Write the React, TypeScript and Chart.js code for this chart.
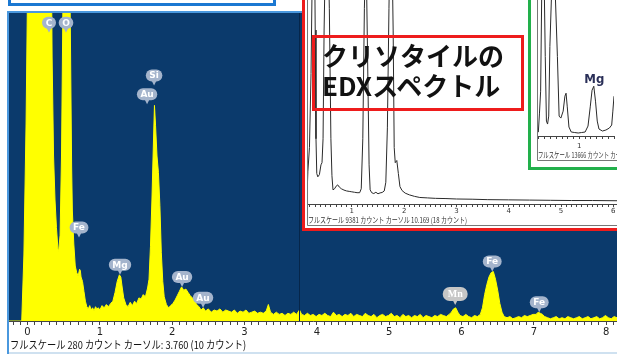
import React, { useEffect, useRef } from 'react';
import { Chart, registerables } from 'chart.js';
Chart.register(...registerables);

// ---------- main spectrum (yellow) ----------
const mainEnergy = [
  -0.26, -0.08, -0.05, -0.02, 0.0, 0.1, 0.2, 0.28, 0.32, 0.34, 0.36, 0.38, 0.4, 0.42, 0.43, 0.45, 0.47, 0.49,
  0.52, 0.56, 0.59, 0.61, 0.62, 0.64, 0.66, 0.68, 0.7, 0.72, 0.73, 0.74, 0.76, 0.78, 0.8, 0.82, 0.84, 0.86,
  0.88, 0.9, 0.92, 0.94, 0.96, 0.98, 1.0, 1.03, 1.06, 1.09, 1.12, 1.15, 1.18, 1.21, 1.24, 1.27, 1.29, 1.31,
  1.33, 1.36, 1.39, 1.42, 1.45, 1.48, 1.51, 1.54, 1.57, 1.6, 1.63, 1.66, 1.68, 1.7, 1.72, 1.74, 1.755, 1.77,
  1.79, 1.81, 1.83, 1.85, 1.87, 1.89, 1.92, 1.95, 1.98, 2.01, 2.04, 2.07, 2.1, 2.13, 2.16, 2.19, 2.22, 2.25,
  2.28, 2.31, 2.34, 2.37, 2.4, 2.43, 2.46, 2.5, 2.54, 2.58, 2.62, 2.66, 2.7, 2.74, 2.78, 2.82, 2.86, 2.9,
  2.94, 2.98, 3.02, 3.06, 3.1, 3.14, 3.18, 3.22, 3.26, 3.3, 3.33, 3.36, 3.4, 3.44, 3.48, 3.52, 3.56, 3.6,
  3.64, 3.68, 3.72, 3.76, 3.79, 3.83, 3.87, 3.91, 3.95, 3.99, 4.03, 4.07, 4.11, 4.15, 4.19, 4.23, 4.27, 4.31,
  4.35, 4.39, 4.43, 4.47, 4.51, 4.55, 4.59, 4.63, 4.67, 4.71, 4.75, 4.79, 4.83, 4.87, 4.91, 4.95, 4.99, 5.03,
  5.07, 5.11, 5.15, 5.19, 5.23, 5.27, 5.31, 5.35, 5.39, 5.43, 5.47, 5.51, 5.55, 5.59, 5.63, 5.67, 5.71, 5.75,
  5.79, 5.83, 5.86, 5.89, 5.92, 5.95, 5.98, 6.02, 6.06, 6.1, 6.14, 6.18, 6.22, 6.26, 6.29, 6.32, 6.35, 6.38,
  6.41, 6.44, 6.47, 6.5, 6.53, 6.56, 6.59, 6.63, 6.67, 6.71, 6.75, 6.79, 6.83, 6.87, 6.91, 6.95, 6.99, 7.03,
  7.06, 7.09, 7.12, 7.15, 7.19, 7.23, 7.27, 7.31, 7.35, 7.39, 7.43, 7.47, 7.51, 7.55, 7.59, 7.63, 7.67, 7.71,
  7.75, 7.79, 7.83, 7.87, 7.91, 7.95, 7.99, 8.03, 8.07, 8.11, 8.15,
];
const mainCounts = [
  0, 0, 60, 180, 300, 420, 520, 600, 420, 240, 150, 110, 85, 66, 63, 78, 150, 290,
  560, 480, 280, 140, 100, 70, 50, 44, 41, 47, 46, 40, 36, 27, 18, 13, 11, 14,
  10, 12, 9, 13, 11, 12, 10, 14, 12, 15, 13, 16, 18, 26, 36, 42, 40, 30,
  21, 15, 13, 17, 14, 18, 16, 21, 20, 24, 22, 30, 38, 68, 110, 160, 196, 178,
  150, 135, 105, 62, 36, 22, 15, 12, 14, 16, 19, 23, 27, 31, 28, 29, 26, 23,
  21, 18, 15, 13, 10, 12, 9, 11, 8, 10, 9, 11, 8, 10, 9, 8, 10, 7,
  9, 8, 10, 7, 8, 9, 7, 8, 7, 9, 15, 8, 6, 8, 6, 7, 5, 7,
  6, 8, 6, 10, 6, 5, 7, 5, 6, 4, 6, 5, 7, 5, 4, 8, 5, 6,
  4, 6, 5, 7, 4, 6, 5, 4, 7, 5, 4, 6, 3, 5, 6, 4, 5, 7,
  4, 5, 3, 6, 4, 5, 3, 5, 4, 6, 3, 5, 4, 3, 5, 4, 6, 5,
  4, 6, 8, 11, 12, 8, 5, 4, 6, 4, 3, 5, 4, 6, 12, 24, 33, 40,
  44, 45, 38, 28, 16, 8, 4, 3, 4, 2, 3, 4, 3, 5, 4, 5, 6, 6,
  8, 7, 6, 4, 3, 2, 3, 4, 2, 3, 2, 4, 3, 2, 3, 4, 2, 3,
  4, 2, 3, 4, 2, 3, 5, 3, 2, 4, 3,
];
const mainTickLabels = ['0', '1', '2', '3', '4', '5', '6', '7', '8'];
const MAIN_X_MIN = -0.256;
const MAIN_X_MAX = 8.15;
const MAIN_FULL_SCALE = 280;
const cursorEnergy = [3.76];
const peakNames = ['C', 'O', 'Si', 'Au', 'Fe', 'Mg', 'Au', 'Au', 'Mn', 'Fe', 'Fe'];
const peakEnergy = [0.297, 0.532, 1.75, 1.653, 0.712, 1.279, 2.137, 2.427, 5.913, 6.425, 7.075];
const peakCounts = [262, 262, 214, 197, 76, 42, 31, 12, 14.5, 45, 8];
const mainFooter = 'フルスケール 280 カウント カーソル: 3.760 (10 カウント)';

// ---------- chrysotile reference spectrum (red inset) ----------
const refEnergy = [
  0.14, 0.16, 0.19, 0.22, 0.25, 0.28, 0.3, 0.315, 0.33, 0.35, 0.38, 0.41, 0.43, 0.45, 0.47, 0.52, 0.57, 0.6,
  0.62, 0.64, 0.67, 0.7, 0.73, 0.76, 0.8, 0.85, 0.9, 0.95, 1.0, 1.05, 1.1, 1.15, 1.18, 1.21, 1.24, 1.27,
  1.3, 1.33, 1.35, 1.38, 1.42, 1.46, 1.5, 1.54, 1.58, 1.62, 1.65, 1.68, 1.71, 1.75, 1.79, 1.81, 1.83, 1.86,
  1.89, 1.92, 1.96, 2.02, 2.1, 2.2, 2.3, 2.45, 2.6, 2.8, 3.0, 3.3, 3.6, 4.0, 4.4, 4.8, 5.2, 5.6, 6.07,
];
const refCounts = [
  180, 1500, 2600, 6000, 12000, 14000, 8000, 3000, 1400, 1250, 1350, 1800, 1900, 3000, 8000, 15000, 9000, 3000,
  1300, 650, 700, 820, 880, 780, 700, 640, 600, 580, 560, 540, 520, 520, 700, 3000, 9000, 12000,
  7000, 1800, 650, 520, 480, 540, 470, 510, 530, 600, 1000, 3500, 9000, 15000, 8000, 2600, 1900, 2000,
  1400, 800, 620, 500, 420, 350, 300, 280, 260, 250, 230, 220, 200, 190, 180, 170, 160, 160, 150,
];
const refTickLabels = ['0', '1', '2', '3', '4', '5', '6'];
const REF_X_MIN = 0.143;
const REF_X_MAX = 6.07;
const REF_FULL_SCALE = 9381;
const refFooter = 'フルスケール 9381 カウント カーソル 10.169 (18 カウント)';

// ---------- zoomed reference spectrum (green inset) ----------
const zoomEnergy = [
  0.267, 0.29, 0.31, 0.33, 0.35, 0.38, 0.41, 0.43, 0.45, 0.47, 0.49, 0.55, 0.62, 0.65, 0.68, 0.72, 0.75, 0.77,
  0.79, 0.82, 0.86, 0.92, 0.98, 1.04, 1.1, 1.15, 1.19, 1.22, 1.25, 1.28, 1.31, 1.34, 1.4, 1.46, 1.52, 1.56,
  1.58, 1.6,
];
const zoomCounts = [
  300, 400, 2300, 4500, 15000, 20000, 8000, 1500, 1200, 2000, 9000, 20000, 8000, 2000, 1800, 2500, 4000, 4300,
  3000, 900, 400, 350, 300, 350, 400, 1000, 3000, 4600, 5000, 3500, 1500, 700, 500, 600, 800, 1100,
  2500, 4000,
];
const zoomTickLabels = ['0', '1'];
const ZOOM_X_MIN = 0.267;
const ZOOM_X_MAX = 1.6;
const ZOOM_FULL_SCALE = 13666;
const zoomPeakNames = ['Mg'];
const zoomPeakEnergy = [1.26];
const zoomPeakCounts = [5300];
const zoomFooter = 'フルスケール 13666 カウント カーソル';
const zoomFooterPrefix = 'フルスケール 13666 カウント';

const CJK = '"Noto Sans CJK JP", "Noto Sans", sans-serif';

function drawSqueezed(ctx: CanvasRenderingContext2D, text: string, x: number, y: number, font: string, width: number, color: string, measureText?: string) {
  ctx.save();
  ctx.font = font;
  ctx.fillStyle = color;
  ctx.textBaseline = 'middle';
  ctx.textAlign = 'left';
  const w = ctx.measureText(measureText || text).width;
  ctx.translate(x, y);
  ctx.scale(width / w, 1);
  ctx.fillText(text, 0, 0);
  ctx.restore();
}

function tickCb(labels: string[]) {
  return (v: any) => {
    const n = Number(v);
    const r = Math.round(n);
    if (r < 0 || n < -1e-6) return '';
    return Math.abs(n - r) < 1e-6 && labels[r] !== undefined ? labels[r] : '';
  };
}

function roundRect(ctx: CanvasRenderingContext2D, x: number, y: number, w: number, h: number, r: number) {
  ctx.beginPath();
  ctx.moveTo(x + r, y);
  ctx.lineTo(x + w - r, y);
  ctx.arcTo(x + w, y, x + w, y + r, r);
  ctx.lineTo(x + w, y + h - r);
  ctx.arcTo(x + w, y + h, x + w - r, y + h, r);
  ctx.lineTo(x + r, y + h);
  ctx.arcTo(x, y + h, x, y + h - r, r);
  ctx.lineTo(x, y + r);
  ctx.arcTo(x, y, x + r, y, r);
  ctx.closePath();
}

const mainPlugin = {
  id: 'mainDeco',
  beforeDraw(chart: any) {
    const { ctx, chartArea: a } = chart;
    ctx.save();
    ctx.fillStyle = '#0b3a6c';
    ctx.fillRect(a.left, a.top, a.right - a.left, a.bottom - a.top);
    ctx.restore();
  },
  afterDatasetsDraw(chart: any) {
    const { ctx, chartArea: a, scales } = chart;
    const xs = scales.x, ys = scales.y;
    ctx.save();
    cursorEnergy.forEach((e) => {
      const px = Math.round(xs.getPixelForValue(e)) + 0.5;
      ctx.strokeStyle = '#06264a';
      ctx.lineWidth = 1;
      ctx.beginPath();
      ctx.moveTo(px, a.top);
      ctx.lineTo(px, a.bottom);
      ctx.stroke();
    });
    peakNames.forEach((name, i) => {
      const px = xs.getPixelForValue(peakEnergy[i]);
      const tip = ys.getPixelForValue(peakCounts[i]);
      const isMn = name === 'Mn';
      const font = isMn ? 'bold 10px "Liberation Serif", serif' : 'bold 9px "DejaVu Sans", sans-serif';
      ctx.font = font;
      const tw = ctx.measureText(name).width;
      const h = isMn ? 14 : 12;
      const w = isMn ? 25 : Math.max(14, tw + 7);
      const cy = tip - 4 - h / 2;
      const fill = isMn ? '#c6c6c6' : '#a4b4cc';
      ctx.fillStyle = fill;
      roundRect(ctx, px - w / 2, cy - h / 2, w, h, h / 2);
      ctx.fill();
      ctx.beginPath();
      ctx.moveTo(px - 2.5, cy + h / 2 - 1);
      ctx.lineTo(px + 2.5, cy + h / 2 - 1);
      ctx.lineTo(px, tip);
      ctx.closePath();
      ctx.fill();
      ctx.fillStyle = '#ffffff';
      ctx.textAlign = 'center';
      ctx.textBaseline = 'middle';
      ctx.fillText(name, px, cy + 0.5);
    });
    ctx.restore();
  },
  afterDraw(chart: any) {
    drawSqueezed(chart.ctx, mainFooter, 1, 332, `11px ${CJK}`, 236, '#111');
  },
};

const refPlugin = {
  id: 'refDeco',
  afterDraw(chart: any) {
    const { ctx, chartArea: a } = chart;
    ctx.save();
    ctx.strokeStyle = '#777';
    ctx.lineWidth = 1;
    ctx.beginPath();
    ctx.moveTo(a.left + 0.5, 0);
    ctx.lineTo(a.left + 0.5, 225.5);
    ctx.lineTo(chart.width, 225.5);
    ctx.stroke();
    ctx.restore();
    drawSqueezed(ctx, refFooter, 3, 220, `8px ${CJK}`, 159, '#333');
  },
};

const zoomPlugin = {
  id: 'zoomDeco',
  afterDatasetsDraw(chart: any) {
    const { ctx, scales } = chart;
    ctx.save();
    ctx.font = 'bold 13px "Liberation Sans Narrow", "DejaVu Sans Condensed", sans-serif';
    ctx.fillStyle = '#2a2f58';
    ctx.textAlign = 'center';
    ctx.textBaseline = 'alphabetic';
    zoomPeakNames.forEach((n, i) => {
      ctx.fillText(n, scales.x.getPixelForValue(zoomPeakEnergy[i]), scales.y.getPixelForValue(zoomPeakCounts[i]));
    });
    ctx.restore();
  },
  afterDraw(chart: any) {
    const { ctx, chartArea: a } = chart;
    ctx.save();
    ctx.strokeStyle = '#777';
    ctx.lineWidth = 1;
    ctx.beginPath();
    ctx.moveTo(a.left + 0.5, 0);
    ctx.lineTo(a.left + 0.5, 160.5);
    ctx.lineTo(chart.width, 160.5);
    ctx.stroke();
    ctx.restore();
    ctx.save();
    ctx.font = `8px ${CJK}`;
    const pw = ctx.measureText(zoomFooterPrefix).width;
    const fw = ctx.measureText(zoomFooter).width;
    ctx.restore();
    drawSqueezed(ctx, zoomFooter, a.left + 1, 155, `8px ${CJK}`, (71 * fw) / pw, '#333');
  },
};

function axisX(min: number, max: number, height: number, labels: string[], fontSize: number, tickLen: number, pad: number, color: string) {
  return {
    type: 'linear',
    min,
    max,
    afterFit: (s: any) => {
      s.height = height;
    },
    border: { display: true, color: '#444', width: 1 },
    grid: { display: true, drawOnChartArea: false, drawTicks: true, tickLength: tickLen, color: '#444', lineWidth: 1 },
    ticks: {
      stepSize: 0.1,
      includeBounds: false,
      autoSkip: false,
      maxRotation: 0,
      minRotation: 0,
      padding: pad,
      color,
      font: { family: '"DejaVu Sans", sans-serif', size: fontSize },
      callback: tickCb(labels),
    },
  };
}

function makeConfig(energy: number[], counts: number[], opts: any) {
  return {
    type: 'line',
    data: {
      datasets: [
        {
          data: energy.map((x, i) => ({ x, y: counts[i] })),
          borderColor: opts.line,
          backgroundColor: opts.fill || 'transparent',
          borderWidth: 1,
          fill: opts.fill ? 'origin' : false,
          pointRadius: 0,
          tension: 0,
        },
      ],
    },
    options: {
      animation: false,
      responsive: false,
      maintainAspectRatio: false,
      events: [],
      layout: { padding: { left: opts.padLeft || 0, top: 0, right: 0, bottom: 0 } },
      plugins: { legend: { display: false }, tooltip: { enabled: false }, title: { display: false } },
      scales: {
        x: opts.x,
        y: { display: false, min: 0, max: opts.yMax },
      },
    },
    plugins: [opts.plugin],
  };
}

function ChartCanvas({ config, width, height, style }: any) {
  const ref = useRef<HTMLCanvasElement>(null);
  useEffect(() => {
    const chart = new Chart(ref.current as HTMLCanvasElement, config());
    return () => chart.destroy();
  }, []);
  return <canvas ref={ref} width={width} height={height} style={{ position: 'absolute', width, height, ...style }} />;
}

export default function App() {
  const mainCfg = () =>
    makeConfig(mainEnergy, mainCounts, {
      line: '#ffff00',
      fill: '#ffff00',
      yMax: MAIN_FULL_SCALE,
      x: axisX(MAIN_X_MIN, MAIN_X_MAX, 31, mainTickLabels, 10, 4, 1, '#222'),
      plugin: mainPlugin,
    });
  const refCfg = () =>
    makeConfig(refEnergy, refCounts, {
      line: '#2a2a2a',
      yMax: REF_FULL_SCALE,
      padLeft: 2,
      x: axisX(REF_X_MIN, REF_X_MAX, 24, refTickLabels, 7, 3, 0, '#333'),
      plugin: refPlugin,
    });
  const zoomCfg = () =>
    makeConfig(zoomEnergy, zoomCounts, {
      line: '#2a2a2a',
      yMax: ZOOM_FULL_SCALE,
      padLeft: 6,
      x: axisX(ZOOM_X_MIN, ZOOM_X_MAX, 31, zoomTickLabels, 7, 3, 3, '#333'),
      plugin: zoomPlugin,
    });

  return (
    <div style={{ position: 'fixed', left: 0, top: 0, width: 617, height: 354, overflow: 'hidden', background: '#ffffff' }}>
      <div style={{ position: 'absolute', left: 7, top: 11, width: 650, height: 360, border: '2px solid #4a98de', boxSizing: 'border-box' }} />
      <ChartCanvas config={mainCfg} width={608} height={339} style={{ left: 9, top: 13 }} />
      <div style={{ position: 'absolute', left: 9, top: 352, width: 608, height: 2, background: '#cfe1f0' }} />
      <div style={{ position: 'absolute', left: 8, top: -6, width: 268, height: 12, border: '3px solid #1b78d2', boxSizing: 'border-box', background: '#fff' }} />
      <div style={{ position: 'absolute', left: 302, top: -3, width: 340, height: 234, border: '3px solid #ee1c1c', boxSizing: 'border-box', background: '#fff' }}>
        <ChartCanvas config={refCfg} width={312} height={228} style={{ left: 0, top: 0 }} />
      </div>
      <div style={{ position: 'absolute', left: 528, top: -3, width: 120, height: 173, border: '3px solid #22b04b', boxSizing: 'border-box', background: '#fff' }}>
        <ChartCanvas config={zoomCfg} width={86} height={167} style={{ left: 0, top: 0 }} />
      </div>
      <div
        style={{
          position: 'absolute',
          left: 312,
          top: 35,
          width: 212,
          height: 76,
          border: '3px solid #ee1c1c',
          boxSizing: 'border-box',
          padding: '2px 0 0 7px',
          font: `bold 26px ${CJK}`,
          lineHeight: '30px',
          color: '#111',
          whiteSpace: 'nowrap',
        }}
      >
        クリソタイルの
        <br />
        EDXスペクトル
      </div>
    </div>
  );
}
